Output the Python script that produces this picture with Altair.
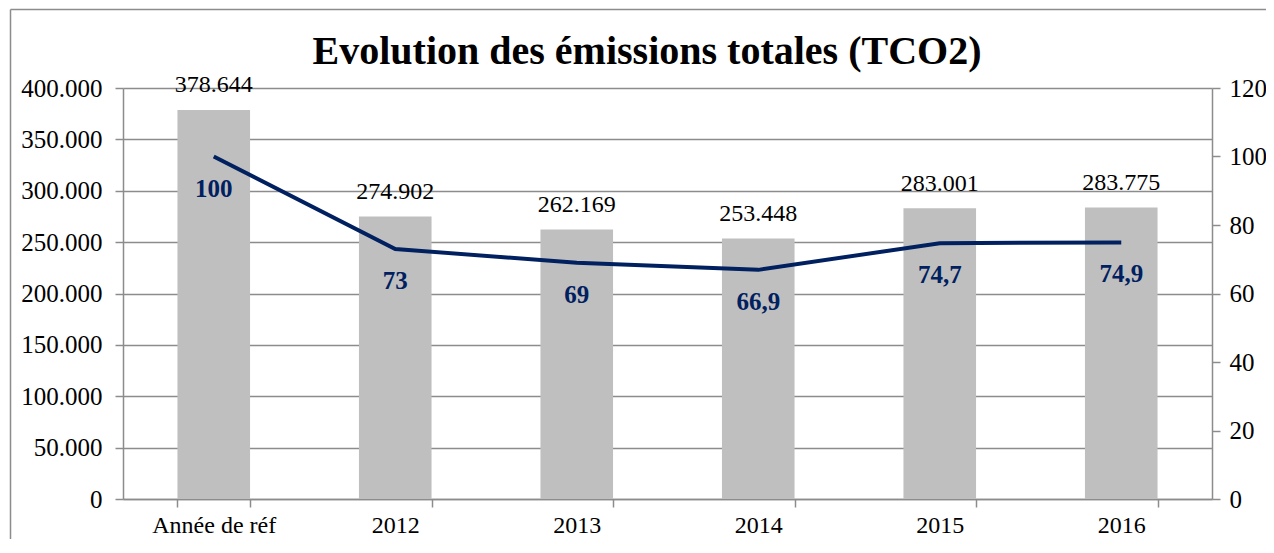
import altair as alt
import pandas as pd

# ---- data ----
categories = ["Année de réf", "2012", "2013", "2014", "2015", "2016"]
emissions = [378644, 274902, 262169, 253448, 283001, 283775]
emission_labels = ["378.644", "274.902", "262.169", "253.448", "283.001", "283.775"]
index_values = [100, 73, 69, 66.9, 74.7, 74.9]
index_labels = ["100", "73", "69", "66,9", "74,7", "74,9"]
left_ticks = [0, 50000, 100000, 150000, 200000, 250000, 300000, 350000, 400000]
right_ticks = [0, 20, 40, 60, 80, 100, 120]
title_text = "Evolution des émissions totales (TCO2)"

df = pd.DataFrame({
    "cat": categories,
    "em": emissions,
    "em_lab": emission_labels,
    "idx": index_values,
    "idx_lab": index_labels,
})

FONT = "Liberation Serif"
GRAY = "#8C8C8C"
NAVY = "#002060"
BAR = "#BFBFBF"

x_axis = alt.Axis(
    title=None, labelAngle=0, labelFont=FONT, labelFontSize=24,
    labelColor="black", tickBand="extent", tickSize=8, tickColor=GRAY,
    tickWidth=1.5, domainColor=GRAY, domainWidth=1.5, labelPadding=6,
    grid=False,
)
x_scale = alt.Scale(paddingInner=0.6, paddingOuter=0.3)

left_axis = alt.Axis(
    title=None, orient="left", values=left_ticks,
    labelExpr="replace(format(datum.value, ','), ',', '.')",
    labelFont=FONT, labelFontSize=25, labelColor="black",
    tickSize=8, tickColor=GRAY, tickWidth=1.5,
    domainColor=GRAY, domainWidth=1.5, labelPadding=13,
    grid=True, gridColor=GRAY, gridWidth=1.4,
)
left_scale = alt.Scale(domain=[0, 400000], nice=False)

right_axis = alt.Axis(
    title=None, orient="right", values=right_ticks,
    labelFont=FONT, labelFontSize=25, labelColor="black",
    tickSize=8, tickColor=GRAY, tickWidth=1.5,
    domainColor=GRAY, domainWidth=1.5, labelPadding=9, grid=False,
)
right_scale = alt.Scale(domain=[0, 120], nice=False)

bars = alt.Chart(df).mark_bar(color=BAR).encode(
    x=alt.X("cat:N", sort=categories, scale=x_scale, axis=x_axis),
    y=alt.Y("em:Q", scale=left_scale, axis=left_axis),
)
bar_text = alt.Chart(df).mark_text(
    font=FONT, fontSize=24, color="black", dy=-17.5, baseline="alphabetic"
).encode(
    x=alt.X("cat:N", sort=categories, scale=x_scale, axis=x_axis),
    y=alt.Y("em:Q", scale=left_scale, axis=left_axis),
    text="em_lab:N",
)
left = alt.layer(bars, bar_text)

line = alt.Chart(df).mark_line(color=NAVY, strokeWidth=4).encode(
    x=alt.X("cat:N", sort=categories, scale=x_scale, axis=x_axis),
    y=alt.Y("idx:Q", scale=right_scale, axis=right_axis),
)
line_text = alt.Chart(df).mark_text(
    font=FONT, fontSize=25, fontWeight="bold", color=NAVY, dy=40,
    baseline="alphabetic",
).encode(
    x=alt.X("cat:N", sort=categories, scale=x_scale, axis=x_axis),
    y=alt.Y("idx:Q", scale=right_scale, axis=right_axis),
    text="idx_lab:N",
)
right = alt.layer(line, line_text)

title_df = pd.DataFrame({"t": [title_text]})
title = alt.Chart(title_df).mark_text(
    font=FONT, fontSize=40, fontWeight="bold", color="black",
    align="center", baseline="alphabetic",
).encode(text="t:N", x=alt.value(524), y=alt.value(-23.7))

frame_df = pd.DataFrame({"a": [0]})
frame_v = alt.Chart(frame_df).mark_rule(color=GRAY, strokeWidth=1.5).encode(
    x=alt.value(-112.5), y=alt.value(-78.5), y2=alt.value(800)
)
frame_h = alt.Chart(frame_df).mark_rule(color=GRAY, strokeWidth=1.5).encode(
    y=alt.value(-78.5), x=alt.value(-112.5), x2=alt.value(2000)
)

chart = alt.layer(left, right, title, frame_v, frame_h).resolve_scale(
    y="independent"
).properties(
    width=1089,
    height=411,
    padding={"left": 115, "top": 80, "right": 54, "bottom": 40},
    autosize=alt.AutoSizeParams(type="none"),
    background="white",
).configure_view(stroke=None)

chart.save("out.html", embed_options={"renderer": "svg", "actions": False})
